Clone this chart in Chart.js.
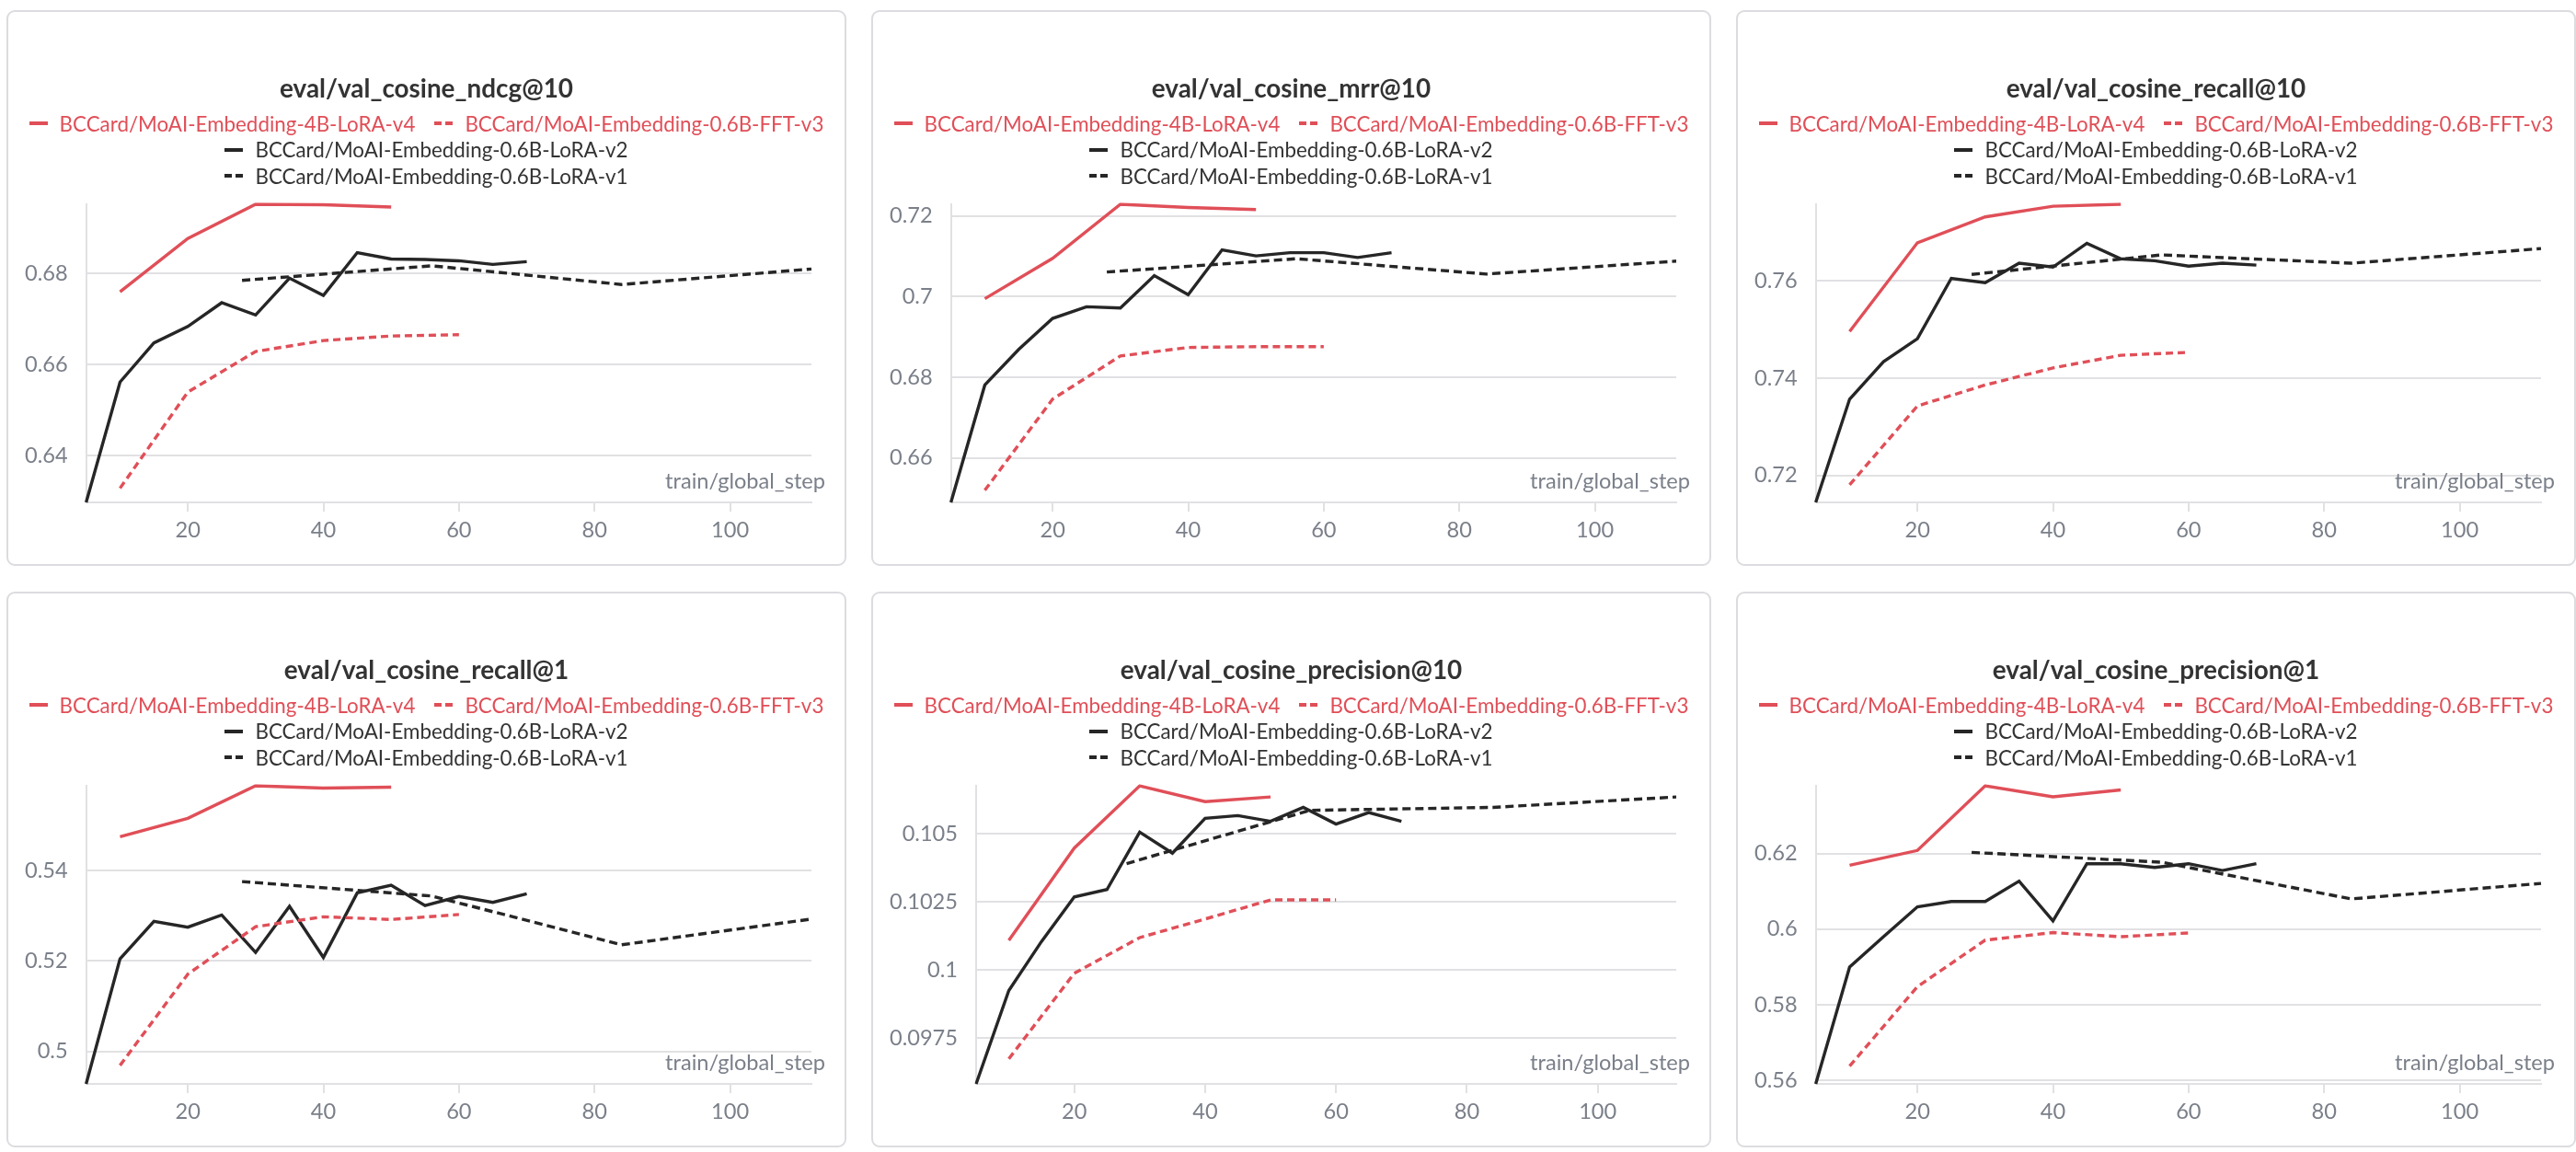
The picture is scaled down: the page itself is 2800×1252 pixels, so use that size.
<!DOCTYPE html>
<html>
<head>
<meta charset="utf-8">
<title>eval metrics</title>
<script src="https://cdn.jsdelivr.net/npm/chart.js@4.4.1/dist/chart.umd.min.js"></script>
<style>
  html, body { margin:0; padding:0; background:#ffffff; }
  body { width:2800px; height:1252px; position:relative; overflow:hidden; }
  .card { position:absolute; width:913px; height:604px; box-sizing:border-box; border:2px solid #dcdce0; border-radius:9px; background:#fff; }
  .inner { position:absolute; left:-2px; top:-2px; width:913px; height:604px; }
  .inner canvas { position:absolute; left:0; top:0; }
  .ttl { position:absolute; left:0; width:913px; top:65px; height:40px; line-height:40px; text-align:center; color:#333333; font-weight:700; white-space:nowrap; }
  .lgd { position:absolute; left:0; width:913px; top:109px; }
  .lrow { height:28.5px; display:flex; justify-content:center; align-items:center; white-space:nowrap; }
  .litem { display:flex; align-items:center; margin:0 10.5px; }
  .litem svg { margin-right:13px; display:block; }
</style>
</head>
<body>
<script>
// ---------------- data ----------------
const runNames = [
  'BCCard/MoAI-Embedding-4B-LoRA-v4',
  'BCCard/MoAI-Embedding-0.6B-FFT-v3',
  'BCCard/MoAI-Embedding-0.6B-LoRA-v2',
  'BCCard/MoAI-Embedding-0.6B-LoRA-v1'
];
const stepsV4  = [10, 20, 30, 40, 50];
const stepsFFT = [10, 20, 30, 40, 50, 60];
const stepsV2  = [5, 10, 15, 20, 25, 30, 35, 40, 45, 50, 55, 60, 65, 70];
const stepsV1  = [28, 56, 84, 112];

const metricTitles = [
  'eval/val_cosine_ndcg@10',
  'eval/val_cosine_mrr@10',
  'eval/val_cosine_recall@10',
  'eval/val_cosine_recall@1',
  'eval/val_cosine_precision@10',
  'eval/val_cosine_precision@1'
];

// ndcg@10
const ndcgV4  = [0.6760, 0.6877, 0.6952, 0.6951, 0.6946];
const ndcgFFT = [0.6329, 0.6540, 0.6629, 0.6653, 0.6663, 0.6666];
const ndcgV2  = [0.6298, 0.6562, 0.6648, 0.6684, 0.6736, 0.6709, 0.6790, 0.6752, 0.6846, 0.6832, 0.6831, 0.6828, 0.6820, 0.6826];
const ndcgV1  = [0.6785, 0.6817, 0.6776, 0.6810];
const ndcgTicks = [0.64, 0.66, 0.68];

// mrr@10
const mrrV4  = [0.6995, 0.7095, 0.7229, 0.7221, 0.7216];
const mrrFFT = [0.6520, 0.6746, 0.6853, 0.6874, 0.6876, 0.6876];
const mrrV2  = [0.6490, 0.6781, 0.6869, 0.6946, 0.6975, 0.6972, 0.7052, 0.7005, 0.7116, 0.7101, 0.7109, 0.7109, 0.7097, 0.7109];
const mrrV1  = [0.7061, 0.7094, 0.7056, 0.7088];
const mrrTicks = [0.66, 0.68, 0.70, 0.72];

// recall@10
const rec10V4  = [0.7496, 0.7678, 0.7731, 0.7753, 0.7757];
const rec10FFT = [0.7181, 0.7343, 0.7386, 0.7421, 0.7447, 0.7453];
const rec10V2  = [0.7145, 0.7357, 0.7434, 0.7481, 0.7605, 0.7596, 0.7636, 0.7628, 0.7677, 0.7645, 0.7641, 0.7630, 0.7636, 0.7632];
const rec10V1  = [0.7613, 0.7653, 0.7636, 0.7666];
const rec10Ticks = [0.72, 0.74, 0.76];

// recall@1
const rec1V4  = [0.5475, 0.5516, 0.5588, 0.5583, 0.5585];
const rec1FFT = [0.4969, 0.5171, 0.5276, 0.5298, 0.5292, 0.5303];
const rec1V2  = [0.4928, 0.5205, 0.5288, 0.5275, 0.5302, 0.5219, 0.5321, 0.5208, 0.5351, 0.5368, 0.5323, 0.5343, 0.5330, 0.5349];
const rec1V1  = [0.5376, 0.5344, 0.5236, 0.5293];
const rec1Ticks = [0.50, 0.52, 0.54];

// precision@10
const prec10V4  = [0.10109, 0.10447, 0.10675, 0.10617, 0.10634];
const prec10FFT = [0.09675, 0.09988, 0.10119, 0.10187, 0.10257, 0.10257];
const prec10V2  = [0.09583, 0.09925, 0.10105, 0.10268, 0.10295, 0.10505, 0.10428, 0.10556, 0.10566, 0.10545, 0.10596, 0.10535, 0.10577, 0.10545];
const prec10V1  = [0.10390, 0.10585, 0.10596, 0.10634];
const prec10Ticks = [0.0975, 0.1, 0.1025, 0.105];

// precision@1
const prec1V4  = [0.6169, 0.6208, 0.6379, 0.6350, 0.6368];
const prec1FFT = [0.5638, 0.5848, 0.5971, 0.5991, 0.5980, 0.5990];
const prec1V2  = [0.5591, 0.5900, 0.5980, 0.6059, 0.6073, 0.6073, 0.6127, 0.6022, 0.6173, 0.6173, 0.6163, 0.6173, 0.6155, 0.6173];
const prec1V1  = [0.6203, 0.6177, 0.6080, 0.6121];
const prec1Ticks = [0.56, 0.58, 0.60, 0.62];

const xTicks = [20, 40, 60, 80, 100];
const xAxisName = 'train/global_step';

// ---------------- styles ----------------
const RED = '#e04f58';
const DARK = '#262626';
const runColors = [RED, RED, DARK, DARK];
const runTextColors = [RED, RED, '#333333', '#333333'];
const runDashes = [[], [8, 5], [], [9, 5]];
const runSteps = [stepsV4, stepsFFT, stepsV2, stepsV1];
const GRID = '#e1e1e4';
const TICK = '#7a7f89';
const FAM = 'Lato, "Source Sans Pro", "Noto Sans", sans-serif';

const panels = [
  { title: metricTitles[0], series: [ndcgV4, ndcgFFT, ndcgV2, ndcgV1], ticks: ndcgTicks },
  { title: metricTitles[1], series: [mrrV4, mrrFFT, mrrV2, mrrV1], ticks: mrrTicks },
  { title: metricTitles[2], series: [rec10V4, rec10FFT, rec10V2, rec10V1], ticks: rec10Ticks },
  { title: metricTitles[3], series: [rec1V4, rec1FFT, rec1V2, rec1V1], ticks: rec1Ticks },
  { title: metricTitles[4], series: [prec10V4, prec10FFT, prec10V2, prec10V1], ticks: prec10Ticks },
  { title: metricTitles[5], series: [prec1V4, prec1FFT, prec1V2, prec1V1], ticks: prec1Ticks }
];

const cardLefts = [7, 947, 1887];
const cardTops = [11, 643];
const legendRows = [[0, 1], [2], [3]];

// fit font sizes to the reference text widths
const mctx = document.createElement('canvas').getContext('2d');
function fitSize(text, weight, target) {
  mctx.font = weight + ' 100px ' + FAM;
  return 100 * target / mctx.measureText(text).width;
}
const titleSize = fitSize('eval/val_cosine_ndcg@10', 700, 319);
const legendSize = fitSize('BCCard/MoAI-Embedding-4B-LoRA-v4', 400, 387);
const tickSize = fitSize('train/global_step', 400, 174);

Chart.defaults.font.family = FAM;
Chart.defaults.color = TICK;

const fmt = v => String(parseFloat(Number(v).toFixed(6)));

const stepLabel = {
  id: 'stepLabel',
  beforeDatasetsDraw(chart) {
    const { ctx, chartArea } = chart;
    ctx.save();
    ctx.font = '400 ' + tickSize + 'px ' + FAM;
    ctx.fillStyle = TICK;
    ctx.textAlign = 'right';
    ctx.textBaseline = 'middle';
    ctx.fillText(xAxisName, chartArea.right + 15, chartArea.bottom - 23);
    ctx.restore();
  }
};

panels.forEach((p, idx) => {
  const card = document.createElement('div');
  card.className = 'card';
  card.style.left = cardLefts[idx % 3] + 'px';
  card.style.top = cardTops[Math.floor(idx / 3)] + 'px';
  const inner = document.createElement('div');
  inner.className = 'inner';
  card.appendChild(inner);

  const canvas = document.createElement('canvas');
  canvas.width = 913; canvas.height = 604;
  canvas.style.width = '913px'; canvas.style.height = '604px';
  inner.appendChild(canvas);

  const ttl = document.createElement('div');
  ttl.className = 'ttl';
  ttl.style.fontSize = titleSize + 'px';
  ttl.style.fontFamily = FAM;
  ttl.textContent = p.title;
  inner.appendChild(ttl);

  const lgd = document.createElement('div');
  lgd.className = 'lgd';
  lgd.style.fontSize = legendSize + 'px';
  lgd.style.fontFamily = FAM;
  legendRows.forEach(row => {
    const r = document.createElement('div');
    r.className = 'lrow';
    row.forEach(k => {
      const it = document.createElement('div');
      it.className = 'litem';
      const dash = runDashes[k].length ? ' stroke-dasharray="8,4"' : '';
      it.innerHTML = '<svg width="20" height="4"><line x1="0" y1="2" x2="20" y2="2" stroke="' + runColors[k] + '" stroke-width="4"' + dash + '/></svg>';
      const sp = document.createElement('span');
      sp.textContent = runNames[k];
      sp.style.color = runTextColors[k];
      it.appendChild(sp);
      r.appendChild(it);
    });
    lgd.appendChild(r);
  });
  inner.appendChild(lgd);
  document.body.appendChild(card);

  new Chart(canvas, {
    type: 'line',
    data: {
      datasets: p.series.map((vals, k) => ({
        label: runNames[k],
        data: runSteps[k].map((s, i) => ({ x: s, y: vals[i] })),
        borderColor: runColors[k],
        backgroundColor: runColors[k],
        borderDash: runDashes[k],
        borderWidth: 3.4,
        pointRadius: 0,
        tension: 0,
        fill: false
      }))
    },
    options: {
      responsive: false,
      animation: false,
      devicePixelRatio: 1,
      layout: { padding: { top: 211, right: 38, bottom: 0, left: 0 } },
      plugins: { legend: { display: false }, tooltip: { enabled: false }, title: { display: false } },
      scales: {
        x: {
          type: 'linear',
          bounds: 'data',
          grid: { drawOnChartArea: false, drawTicks: true, tickLength: 10, tickWidth: 2, tickColor: GRID, color: GRID, lineWidth: 2 },
          border: { display: true, color: GRID, width: 2 },
          ticks: { color: TICK, font: { size: tickSize }, padding: 6, maxRotation: 0, autoSkip: false, callback: v => fmt(v) },
          afterBuildTicks: s => { s.ticks = xTicks.map(v => ({ value: v })); },
          afterFit: s => { s.height = 69; }
        },
        y: {
          type: 'linear',
          bounds: 'data',
          grid: { color: GRID, lineWidth: 2, drawTicks: false },
          border: { display: true, color: GRID, width: 2 },
          ticks: { color: TICK, font: { size: tickSize }, padding: 20, autoSkip: false, callback: v => fmt(v) },
          afterBuildTicks: s => { s.ticks = p.ticks.map(v => ({ value: v })); }
        }
      }
    },
    plugins: [stepLabel]
  });
});
</script>
</body>
</html>
